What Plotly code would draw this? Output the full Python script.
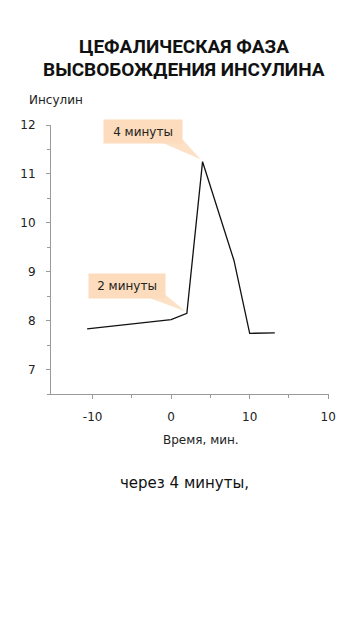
import plotly.graph_objects as go

# ---- data ----
time_min = [-10.7, 0, 2, 4, 8, 10, 13.2]
insulin = [7.83, 8.02, 8.15, 11.25, 9.23, 7.74, 7.75]
x_tickvals = [-10, 0, 10, 20]
x_ticktext = ["-10", "0", "10", "10"]
title_lines = ["ЦЕФАЛИЧЕСКАЯ ФАЗА", "ВЫСВОБОЖДЕНИЯ ИНСУЛИНА"]
y_title = "Инсулин"
x_title = "Время, мин."
caption = "через 4 минуты,"
callout_texts = ["4 минуты", "2 минуты"]

OFF = 8  # browser default body margin
W, H = 360 - 2 * OFF, 640 - 2 * OFF
L, T = 43 - OFF, 125 - OFF
R = W - (329 - OFF)
B = H - (394 - OFF)
plot_h = H - T - B
plot_w = W - L - R

def py(p):  # page pixel y -> paper y
    return (H - B - (p - OFF)) / plot_h

def px(p):  # page pixel x -> paper x
    return ((p - OFF) - L) / plot_w

body_font = "DejaVu Sans, Verdana, sans-serif"
title_font = dict(family="Roboto", size=19, color="#111111", weight="bold")
peach = "#fcdcbc"

fig = go.Figure()
fig.add_trace(go.Scatter(x=time_min, y=insulin, mode="lines",
                         line=dict(color="#111111", width=1.3),
                         hoverinfo="skip", showlegend=False))

anns = []
anns.append(dict(text=title_lines[0], xref="paper", yref="paper",
                 x=px(180), y=py(47), xanchor="center", yanchor="middle", showarrow=False,
                 font=title_font))
anns.append(dict(text=title_lines[1], xref="paper", yref="paper",
                 x=px(180), y=py(70), xanchor="center", yanchor="middle", showarrow=False,
                 font=title_font))
anns.append(dict(text=y_title, xref="paper", yref="paper", x=px(18), y=py(100),
                 xanchor="left", yanchor="middle", showarrow=False,
                 font=dict(family=body_font, size=12, color="#222222")))
anns.append(dict(text=x_title, xref="paper", yref="paper", x=px(197), y=py(440),
                 xanchor="center", yanchor="middle", showarrow=False,
                 font=dict(family=body_font, size=12, color="#222222")))
anns.append(dict(text=caption, xref="paper", yref="paper", x=px(180), y=py(483),
                 xanchor="center", yanchor="middle", showarrow=False,
                 font=dict(family=body_font, size=15, color="#111111")))
# callout boxes
anns.append(dict(text=callout_texts[0], xref="x", yref="y", x=-3.6, y=11.87,
                 xanchor="center", yanchor="middle", showarrow=False,
                 bgcolor=peach, borderpad=4, width=70, height=15,
                 font=dict(family=body_font, size=12, color="#222222")))
anns.append(dict(text=callout_texts[1], xref="x", yref="y", x=-5.6, y=8.71,
                 xanchor="center", yanchor="middle", showarrow=False,
                 bgcolor=peach, borderpad=4, width=68, height=16,
                 font=dict(family=body_font, size=12, color="#222222")))

shapes = [
    dict(type="path", xref="x", yref="y",
         path="M -1.2,11.64 L 1.2,11.64 L 1.2,11.75 L 3.75,11.3 Z",
         fillcolor=peach, line=dict(width=0), layer="below", opacity=0.85),
    dict(type="path", xref="x", yref="y",
         path="M -3.0,8.48 L -0.9,8.48 L -0.9,8.55 L 1.8,8.19 Z",
         fillcolor=peach, line=dict(width=0), layer="below", opacity=0.85),
]

axis_col = "#9a9a9a"
fig.update_layout(
    width=W, height=H,
    margin=dict(l=L, r=R, t=T, b=B),
    paper_bgcolor="white", plot_bgcolor="white",
    annotations=anns, shapes=shapes,
    xaxis=dict(range=[-15.3, 20.1], showgrid=False, zeroline=False,
               showline=True, linecolor=axis_col, linewidth=1,
               tickvals=x_tickvals, ticktext=x_ticktext,
               ticks="outside", ticklen=4, tickcolor=axis_col,
               ticklabelstandoff=8,
               minor=dict(tickvals=[-5, 5, 15], ticks="outside", ticklen=3, tickcolor=axis_col),
               tickfont=dict(family=body_font, size=12, color="#222222")),
    yaxis=dict(range=[6.5, 12], showgrid=False, zeroline=False,
               showline=True, linecolor=axis_col, linewidth=1,
               tickvals=[7, 8, 9, 10, 11, 12],
               ticks="outside", ticklen=4, tickcolor=axis_col,
               ticklabelstandoff=8,
               minor=dict(dtick=0.5, ticks="outside", ticklen=3, tickcolor=axis_col),
               tickfont=dict(family=body_font, size=12, color="#222222")),
)

fig.write_html("out.html")
